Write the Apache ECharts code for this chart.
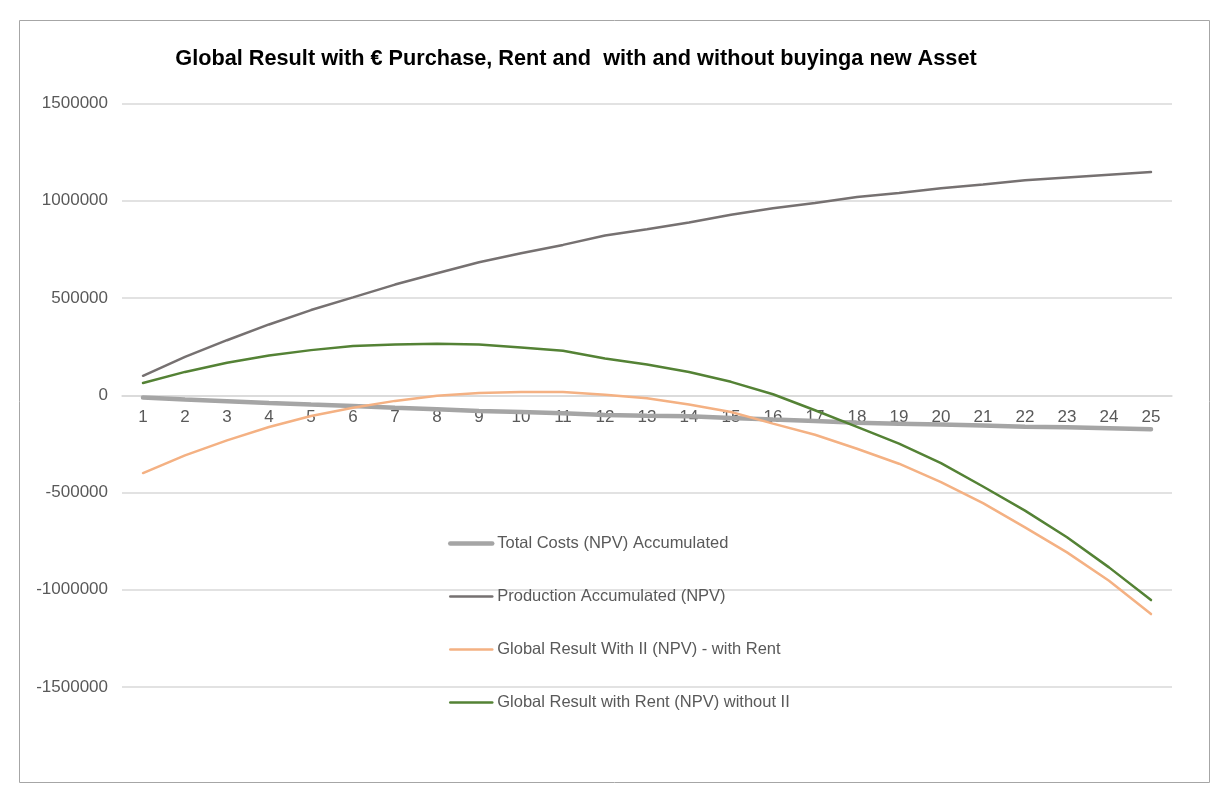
<!DOCTYPE html>
<html>
<head>
    <meta charset="utf-8">
    <script src="https://cdn.jsdelivr.net/npm/echarts@6.0.0/dist/echarts.min.js"></script>
    <style>
        html,body{margin:0;padding:0;background:#fff;}
        #main{width:1220px;height:804px;}
    </style>
</head>
<body>
<div id="main"></div>
<script>
    // years 1..25
    var years = [];
    for (var i = 1; i <= 25; i++) { years.push(String(i)); }

    var totalCosts = [-12000, -22000, -31000, -40000, -48000, -55000, -64000, -72000, -81000, -86000,
        -93000, -101000, -105000, -108000, -117000, -125000, -132000, -141000, -146000, -151000,
        -156000, -162000, -165000, -170000, -175000];
    var production = [100000, 197000, 283000, 364000, 438000, 503000, 569000, 627000, 684000, 730000,
        773000, 821000, 853000, 888000, 928000, 962000, 988000, 1019000, 1040000, 1064000,
        1084000, 1105000, 1120000, 1134000, 1148000];
    var withII = [-400000, -309000, -232000, -163000, -107000, -64000, -29000, -3000, 12000, 17000,
        17000, 3000, -15000, -48000, -86000, -146000, -203000, -275000, -352000, -447000,
        -555000, -679000, -808000, -954000, -1125000];
    var withoutII = [63000, 120000, 167000, 204000, 232000, 253000, 261000, 265000, 261000, 246000,
        229000, 189000, 158000, 120000, 69000, 5000, -77000, -163000, -249000, -349000,
        -469000, -593000, -730000, -885000, -1053000];

    var names = ['Total Costs (NPV) Accumulated', 'Production Accumulated (NPV)',
        'Global Result With II (NPV) - with Rent', 'Global Result with Rent (NPV) without II'];
    var colors = ['#a5a5a5', '#767171', '#f4b183', '#548235'];
    var widths = [4.5, 2.5, 2.5, 2.5];
    var values = [totalCosts, production, withII, withoutII];

    var chart = echarts.init(document.getElementById('main'));
    var txt = '#595959';
    var gridTop = 103.5, gridBottom = 117, plotH = 804 - gridTop - gridBottom;
    var option = {
        backgroundColor: '#fff',
        animation: false,
        title: {
            text: 'Global Result with € Purchase, Rent and  with and without buyinga new Asset',
            left: 571,
            textAlign: 'center',
            top: 43,
            textStyle: {fontFamily: 'Liberation Sans', fontSize: 21.7, fontWeight: 'bold', color: '#000'}
        },
        graphic: [{
            type: 'rect',
            shape: {x: 19.5, y: 20.5, width: 1190, height: 762},
            style: {fill: 'none', stroke: '#a6a6a6', lineWidth: 1},
            silent: true
        }],
        legend: {
            orient: 'vertical',
            left: 448,
            top: 535,
            padding: 0,
            itemWidth: 42,
            itemHeight: 20,
            itemGap: 33,
            itemStyle: {opacity: 0},
            textStyle: {fontFamily: 'Liberation Sans', fontSize: 16.5, color: txt},
            data: names.map(function (n, k) {
                return {name: n, lineStyle: {width: widths[k], color: colors[k], cap: 'round'}};
            })
        },
        grid: {left: 122, right: 48, top: gridTop, bottom: gridBottom},
        xAxis: {
            type: 'category',
            data: years,
            boundaryGap: true,
            // axis sits on the zero line (half of the -1.5M..1.5M range)
            offset: -plotH / 2,
            axisLine: {onZero: false, lineStyle: {color: '#d9d9d9', width: 1.5}},
            axisTick: {show: false},
            axisLabel: {color: txt, fontFamily: 'Liberation Sans', fontSize: 17, margin: 14}
        },
        yAxis: {
            type: 'value',
            min: -1500000,
            max: 1500000,
            interval: 500000,
            axisLine: {show: false},
            axisTick: {show: false},
            splitLine: {lineStyle: {color: '#d9d9d9', width: 1.5}},
            axisLabel: {
                color: txt, fontFamily: 'Liberation Sans', fontSize: 17, margin: 14,
                formatter: function (v) { return String(v); }
            }
        },
        series: names.map(function (n, k) {
            return {
                name: n, type: 'line', data: values[k], symbol: 'none',
                lineStyle: {color: colors[k], width: widths[k], cap: 'round'},
                itemStyle: {color: colors[k]}
            };
        })
    };
    option.legend.itemGap = 33 + 3;
    chart.setOption(option);
</script>
</body>
</html>
